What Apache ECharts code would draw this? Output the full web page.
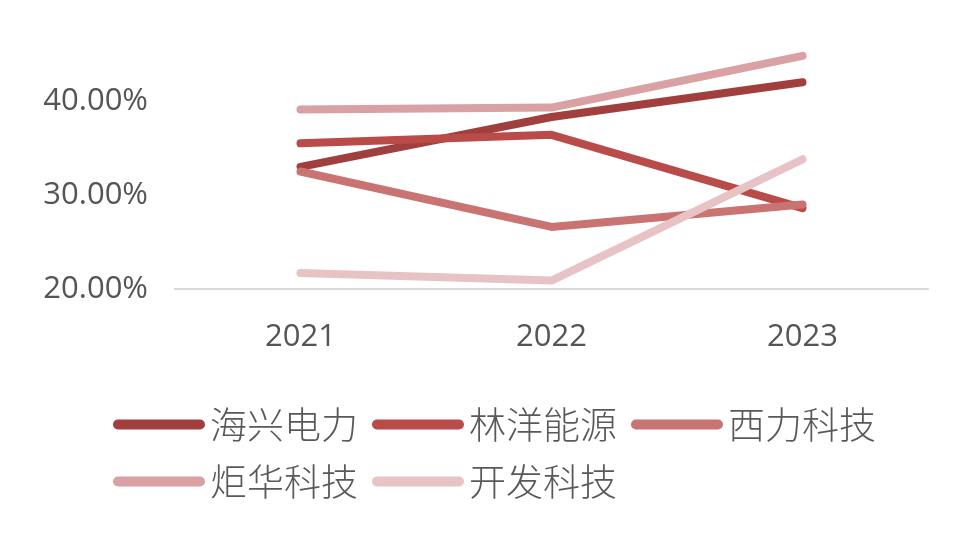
<!DOCTYPE html>
<html>
<head>
    <meta charset="utf-8">
    <script src="https://cdn.jsdelivr.net/npm/echarts@6/dist/echarts.min.js"></script>
    <style>
        html, body { margin: 0; padding: 0; background: #fff; }
        #container { width: 980px; height: 546px; }
    </style>
</head>
<body>
<div id="container"></div>
<script type="text/javascript">
    // 年份
    var years = ['2021', '2022', '2023'];
    // 各公司数值 (%)
    var haixing = [33.0, 38.3, 42.0];
    var linyang = [35.5, 36.4, 28.6];
    var xili = [32.5, 26.6, 29.0];
    var juhua = [39.1, 39.3, 44.8];
    var kaifa = [21.7, 20.9, 33.8];
    var names = ['海兴电力', '林洋能源', '西力科技', '炬华科技', '开发科技'];
    var colors = ['#a13f3f', '#b94b49', '#c97473', '#d9a1a3', '#e7c3c5'];

    var dataList = [haixing, linyang, xili, juhua, kaifa];
    var series = names.map(function (n, i) {
        return {
            name: n,
            type: 'line',
            data: dataList[i],
            symbol: 'none',
            lineStyle: { width: 8, color: colors[i], cap: 'round', join: 'round' },
            itemStyle: { color: colors[i] }
        };
    });

    var chart = echarts.init(document.getElementById('container'));
    chart.setOption({
        animation: false,
        color: colors,
        grid: { left: 175, right: 52, top: 7, bottom: 257 },
        legend: {
            data: names,
            left: 108,
            top: 398,
            width: 800,
            itemWidth: 92,
            itemHeight: 10,
            itemGap: 14,
            icon: 'path://M5,0 L87,0 A5,5 0 0 1 87,10 L5,10 A5,5 0 0 1 5,0 Z',
            textStyle: {
                fontFamily: 'Noto Sans CJK SC',
                fontSize: 37,
                lineHeight: 43,
                fontWeight: 300,
                color: '#595959'
            }
        },
        xAxis: {
            type: 'category',
            data: years,
            axisLine: { lineStyle: { color: '#d9d9d9', width: 2 } },
            axisTick: { show: false },
            axisLabel: { fontFamily: 'Open Sans', fontSize: 31, color: '#555555', margin: 33 }
        },
        yAxis: {
            type: 'value',
            min: 20,
            max: 50,
            interval: 10,
            splitLine: { show: false },
            axisLine: { show: false },
            axisTick: { show: false },
            axisLabel: {
                showMaxLabel: false,
                fontFamily: 'Open Sans',
                fontSize: 31,
                color: '#555555',
                margin: 27,
                formatter: function (v) { return v.toFixed(2) + '%'; }
            }
        },
        series: series
    });
</script>
</body>
</html>
